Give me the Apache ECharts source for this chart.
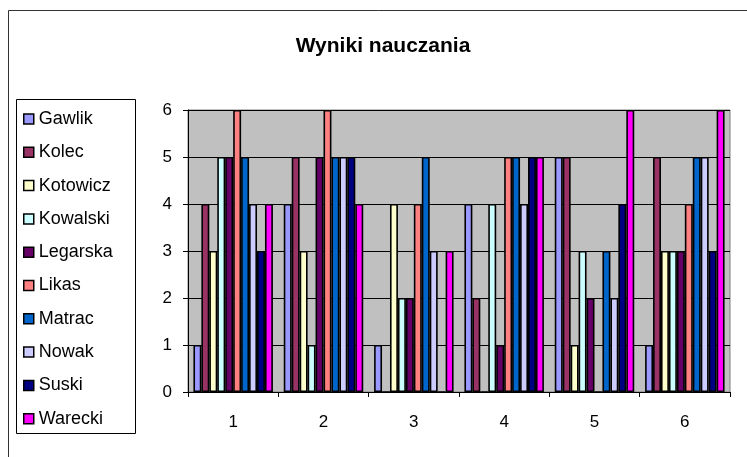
<!DOCTYPE html>
<html>
<head>
<meta charset="utf-8">
<title>Wyniki nauczania</title>
<style>
  html, body { margin: 0; padding: 0; background: #fff; }
  #main { width: 747px; height: 457px; }
</style>
</head>
<body>
<div id="main"></div>
<script src="https://cdn.jsdelivr.net/npm/echarts@6/dist/echarts.min.js"></script>
<script>
// kategorie (numery ocen / prac)
var categories = ['1', '2', '3', '4', '5', '6'];
var yTicks = [0, 1, 2, 3, 4, 5, 6];

// uczniowie i ich wyniki
var names = ['Gawlik', 'Kolec', 'Kotowicz', 'Kowalski', 'Legarska', 'Likas', 'Matrac', 'Nowak', 'Suski', 'Warecki'];
var gawlik   = [1, 4, 1, 4, 5, 1];
var kolec    = [4, 5, 0, 2, 5, 5];
var kotowicz = [3, 3, 4, 0, 1, 3];
var kowalski = [5, 1, 2, 4, 3, 3];
var legarska = [5, 5, 2, 1, 2, 3];
var likas    = [6, 6, 4, 5, 0, 4];
var matrac   = [5, 5, 5, 5, 3, 5];
var nowak    = [4, 5, 3, 4, 2, 5];
var suski    = [3, 5, 0, 5, 4, 3];
var warecki  = [4, 4, 3, 5, 6, 6];
var values = [gawlik, kolec, kotowicz, kowalski, legarska, likas, matrac, nowak, suski, warecki];

var colors = ['#9999FF', '#993366', '#FFFFCC', '#CCFFFF', '#660066', '#FF8080', '#0066CC', '#CCCCFF', '#000080', '#FF00FF'];

var font = 'Liberation Sans, Arial, sans-serif';

var chart = echarts.init(document.getElementById('main'));

var series = names.map(function (n, i) {
  return {
    name: n,
    type: 'bar',
    data: values[i],
    barGap: 0,
    barCategoryGap: '12%',
    itemStyle: { color: colors[i], borderColor: '#000', borderWidth: 1.6 },
    emphasis: { disabled: true }
  };
});

var option = {
  animation: false,
  color: colors,
  title: {
    text: 'Wyniki nauczania',
    left: 378,
    textAlign: 'center',
    top: 31,
    textStyle: { fontFamily: font, fontSize: 21, fontWeight: 'bold', color: '#000' }
  },
  legend: {
    orient: 'vertical',
    left: 18,
    top: 105,
    itemWidth: 10,
    itemHeight: 10,
    itemGap: 15.3,
    icon: 'rect',
    selectedMode: false,
    itemStyle: { borderColor: '#000', borderWidth: 1.5 },
    textStyle: { fontFamily: font, fontSize: 18, color: '#000' },
    data: names
  },
  graphic: [
    { type: 'rect', shape: { x: 8.5, y: 10.5, width: 760, height: 460 }, style: { fill: 'none', stroke: '#333', lineWidth: 1 }, z: -1 },
    { type: 'rect', shape: { x: 16.5, y: 99.5, width: 119, height: 334 }, style: { fill: 'none', stroke: '#000', lineWidth: 1 }, z: 10 }
  ],
  grid: {
    left: 188,
    top: 110,
    width: 542,
    height: 282,
    show: true,
    backgroundColor: '#C0C0C0',
    borderColor: '#808080',
    borderWidth: 1
  },
  xAxis: {
    type: 'category',
    data: categories,
    axisLine: { lineStyle: { color: '#000', width: 1 } },
    axisTick: { show: true, length: 5, alignWithLabel: false, lineStyle: { color: '#000' } },
    axisLabel: { fontFamily: font, fontSize: 17, color: '#000', margin: 22 },
    splitLine: { show: false }
  },
  yAxis: {
    type: 'value',
    min: yTicks[0],
    max: yTicks[yTicks.length - 1],
    interval: 1,
    axisLine: { show: true, lineStyle: { color: '#000', width: 1 } },
    axisTick: { show: true, length: 5, lineStyle: { color: '#000' } },
    axisLabel: { fontFamily: font, fontSize: 17, color: '#000', margin: 16 },
    splitLine: { show: true, lineStyle: { color: '#000', width: 1 } }
  },
  series: series
};

chart.setOption(option);
</script>
</body>
</html>
